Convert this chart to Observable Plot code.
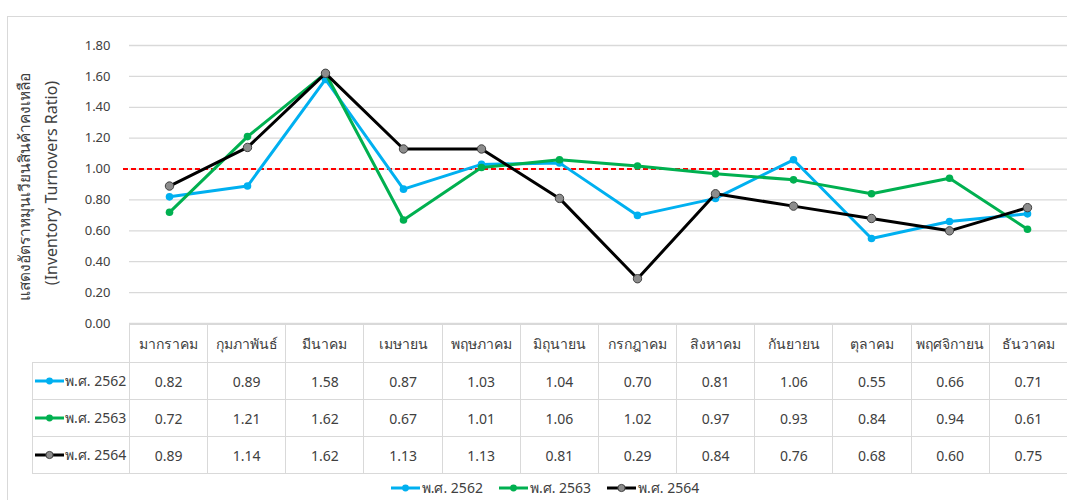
<!DOCTYPE html>
<html>
<head>
<meta charset="utf-8">
<script src="https://cdn.jsdelivr.net/npm/d3@7"></script>
<script src="https://cdn.jsdelivr.net/npm/@observablehq/plot@0.6"></script>
<style>
  html, body { margin: 0; padding: 0; background: #fff; }
  body { width: 1067px; height: 500px; overflow: hidden; position: relative;
         font-family: Tahoma, "Noto Sans", "Open Sans", sans-serif; color: #404040; }
  #frame { position: absolute; left: 7px; top: 16px; width: 1100px; height: 520px;
           border-left: 1px solid #d9d9d9; border-top: 1px solid #d9d9d9; }
  #chart { position: absolute; left: 0; top: 0; }
  .ytitle { position: absolute; white-space: nowrap; color: #404040;
            transform-origin: center center; transform: translate(-50%, -50%) rotate(-90deg); }
  #tbl { position: absolute; left: 32px; top: 324px; border-collapse: collapse; table-layout: fixed; }
  #tbl td { border: 1px solid #d9d9d9; text-align: center; font-size: 14px; color: #404040;
            padding: 0; box-sizing: border-box; white-space: nowrap; }
  #tbl tr.head td { height: 38px; }
  #tbl tr.row td { height: 37px; }
  #tbl td.corner { border: none; border-right: 1px solid #d9d9d9; border-bottom: 1px solid #d9d9d9; }
  #tbl td.lab { text-align: left; padding-left: 2px; }
  .key { display: inline-block; vertical-align: middle; }
  #legend { position: absolute; top: 477px; left: 0; width: 1067px; display: flex; justify-content: center;
            gap: 16px; font-size: 14px; color: #404040; padding-left: 23px; box-sizing: border-box; }
  #legend span.item { display: inline-flex; align-items: center; gap: 2px; }
</style>
</head>
<body>
<div id="frame"></div>
<div id="chart"></div>
<div class="ytitle" style="left:24px; top:187px; font-size:15.5px;">แสดงอัตราหมุนเวียนสินค้าคงเหลือ</div>
<div class="ytitle" style="left:51px; top:183px; font-size:16px;">(Inventory Turnovers Ratio)</div>
<table id="tbl"></table>
<div id="legend"></div>
<script>
const months = ["มากราคม","กุมภาพันธ์","มีนาคม","เมษายน","พฤษภาคม","มิถุนายน","กรกฎาคม","สิงหาคม","กันยายน","ตุลาคม","พฤศจิกายน","ธันวาคม"];
const seriesNames = ["พ.ศ. 2562","พ.ศ. 2563","พ.ศ. 2564"];
const v2562 = [0.82,0.89,1.58,0.87,1.03,1.04,0.70,0.81,1.06,0.55,0.66,0.71];
const v2563 = [0.72,1.21,1.62,0.67,1.01,1.06,1.02,0.97,0.93,0.84,0.94,0.61];
const v2564 = [0.89,1.14,1.62,1.13,1.13,0.81,0.29,0.84,0.76,0.68,0.60,0.75];
const yTicks = [0,0.2,0.4,0.6,0.8,1.0,1.2,1.4,1.6,1.8];
const threshold = [1.0];

const seriesValues = [v2562, v2563, v2564];
const lineColors = ["#00B0F0","#00B050","#000000"];
const dotFill = ["#00B0F0","#00B050","#8C8C8C"];
const dotStroke = ["#00B0F0","#00B050","#404040"];

const data = [];
seriesValues.forEach((vals, si) => vals.forEach((v, i) => data.push({series: seriesNames[si], month: months[i], value: v})));

const marks = [
  Plot.gridY(yTicks, {stroke: "#d9d9d9", strokeOpacity: 1, strokeWidth: 1.3}),
  Plot.axisY(yTicks, {tickSize: 0, tickPadding: 19, tickFormat: d3.format(".2f"), fill: "#404040", fontSize: 13, label: null}),
  Plot.ruleY(threshold, {stroke: "#FF0000", strokeWidth: 2, strokeDasharray: "5,3", insetLeft: -6, insetRight: 43})
];
seriesNames.forEach((s, si) => {
  const d = data.filter(r => r.series === s);
  marks.push(Plot.line(d, {x: "month", y: "value", stroke: lineColors[si], strokeWidth: 3}));
  marks.push(Plot.dot(d, {x: "month", y: "value", r: si === 2 ? 4.2 : 3.8, fill: dotFill[si], stroke: dotStroke[si], strokeWidth: si === 2 ? 1 : 0}));
});

const chart = Plot.plot({
  width: 1067, height: 330,
  marginLeft: 129, marginRight: 0, marginTop: 45, marginBottom: 7,
  style: {fontFamily: 'Tahoma, "Noto Sans", sans-serif', fontSize: "13px", background: "transparent", overflow: "visible"},
  x: {type: "point", domain: months, padding: 0.5, axis: null},
  y: {domain: [0, 1.8], axis: null, label: null},
  marks
});
document.getElementById("chart").appendChild(chart);

function keySvg(si) {
  const ns = "http://www.w3.org/2000/svg";
  const svg = document.createElementNS(ns, "svg");
  svg.setAttribute("width", 29); svg.setAttribute("height", 10); svg.setAttribute("class", "key");
  const ln = document.createElementNS(ns, "line");
  ln.setAttribute("x1", 0); ln.setAttribute("x2", 29); ln.setAttribute("y1", 5); ln.setAttribute("y2", 5);
  ln.setAttribute("stroke", lineColors[si]); ln.setAttribute("stroke-width", 3);
  const c = document.createElementNS(ns, "circle");
  c.setAttribute("cx", 14.5); c.setAttribute("cy", 5); c.setAttribute("r", si === 2 ? 3.6 : 3.4);
  c.setAttribute("fill", dotFill[si]); c.setAttribute("stroke", dotStroke[si]); c.setAttribute("stroke-width", si === 2 ? 1 : 0);
  svg.appendChild(ln); svg.appendChild(c);
  return svg;
}

// data table
const tbl = document.getElementById("tbl");
const colg = document.createElement("colgroup");
const c0 = document.createElement("col"); c0.style.width = "97px"; colg.appendChild(c0);
months.forEach(() => { const c = document.createElement("col"); c.style.width = (938/12) + "px"; colg.appendChild(c); });
tbl.appendChild(colg);
tbl.style.width = (97 + 938) + "px";
const hr = document.createElement("tr"); hr.className = "head";
const corner = document.createElement("td"); corner.className = "corner"; hr.appendChild(corner);
months.forEach(m => { const td = document.createElement("td"); td.textContent = m; hr.appendChild(td); });
tbl.appendChild(hr);
seriesNames.forEach((s, si) => {
  const tr = document.createElement("tr"); tr.className = "row";
  const lab = document.createElement("td"); lab.className = "lab";
  lab.appendChild(keySvg(si));
  const sp = document.createElement("span"); sp.textContent = s; sp.style.verticalAlign = "middle"; sp.style.marginLeft = "1px";
  lab.appendChild(sp);
  tr.appendChild(lab);
  seriesValues[si].forEach(v => { const td = document.createElement("td"); td.textContent = v.toFixed(2); tr.appendChild(td); });
  tbl.appendChild(tr);
});

// legend
const leg = document.getElementById("legend");
seriesNames.forEach((s, si) => {
  const it = document.createElement("span"); it.className = "item";
  it.appendChild(keySvg(si));
  const t = document.createElement("span"); t.textContent = s; it.appendChild(t);
  leg.appendChild(it);
});
</script>
</body>
</html>
